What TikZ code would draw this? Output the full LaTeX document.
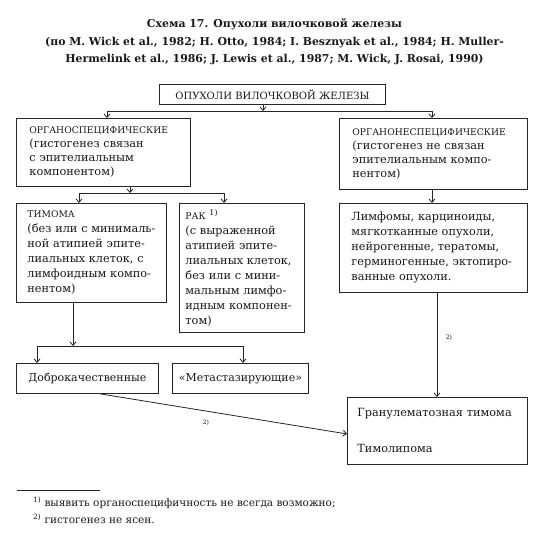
\documentclass[tikz,border=0pt]{standalone}
\usepackage{fontspec}
\setmainfont{DejaVu Serif}
\usetikzlibrary{arrows.meta}
\begin{document}
\begin{tikzpicture}[x=1pt,y=-1pt,
  box/.style={draw=black!85, line width=0.9pt, anchor=north west, inner ysep=0pt, align=left,
    text=black!90, font=\fontsize{11.3}{15}\selectfont},
  conn/.style={draw=black!85, line width=0.8pt},
  arr/.style={conn, -{Straight Barb[length=3.5pt,width=6pt]}},
  lab/.style={font=\fontsize{6}{7}\selectfont, inner sep=0pt, text=black!90},
  fn/.style={anchor=west, inner sep=0pt, font=\fontsize{10.5}{13}\selectfont, text=black!90},
]
\useasboundingbox (0,0) rectangle (549,544);
\fill[white] (0,0) rectangle (549,544);

% title
\node[align=center, font=\bfseries\fontsize{10.9}{17.5}\selectfont, text=black!90] (title) at (274.5,42)
  {Схема 17. Опухоли вилочковой железы\\
   (по M. Wick et al., 1982; H. Otto, 1984; I. Besznyak et al., 1984; H. Muller-\\
   Hermelink et al., 1986; J. Lewis et al., 1987; M. Wick, J. Rosai, 1990)};

% boxes
\node[box, minimum width=226pt, minimum height=20pt, text width=226pt, inner xsep=0pt, align=center,
  font=\fontsize{10}{11}\selectfont] (top) at (159,84) {ОПУХОЛИ ВИЛОЧКОВОЙ ЖЕЛЕЗЫ};

\node[box, minimum width=174pt, minimum height=68pt, text width=148pt, inner xsep=13pt,
  font=\fontsize{11.3}{14}\selectfont] (orgS) at (16,118)
  {\mbox{\fontsize{9.2}{14}\selectfont ОРГАНОСПЕЦИФИЧЕСКИЕ}\\\mbox{(гистогенез связан}\\\mbox{с эпителиальным}\\\mbox{компонентом)}};

\node[box, minimum width=188pt, minimum height=71pt, text width=162pt, inner xsep=13pt,
  font=\fontsize{11.3}{14}\selectfont] (orgN) at (339,118)
  {\mbox{\fontsize{9.2}{14}\selectfont ОРГАНОНЕСПЕЦИФИЧЕСКИЕ}\\\mbox{(гистогенез не связан}\\\mbox{эпителиальным компо-}\\\mbox{нентом)}};

\node[box, minimum width=150pt, minimum height=99pt, text width=128pt, inner xsep=11pt] (tim) at (16,203)
  {\mbox{\fontsize{9.2}{15}\selectfont ТИМОМА}\\\mbox{(без или с минималь-}\\\mbox{ной атипией эпите-}\\\mbox{лиальных клеток, с}\\\mbox{лимфоидным компо-}\\\mbox{нентом)}};

\node[box, minimum width=125pt, minimum height=129pt, text width=113pt, inner xsep=6pt] (rak) at (179,203)
  {\mbox{{\fontsize{9.2}{15}\selectfont РАК} \textsuperscript{1)}}\\\mbox{(с выраженной}\\\mbox{атипией эпите-}\\\mbox{лиальных клеток,}\\\mbox{без или с мини-}\\\mbox{мальным лимфо-}\\\mbox{идным компонен-}\\\mbox{том)}};

\node[box, minimum width=188pt, minimum height=89pt, text width=164pt, inner xsep=12pt] (lim) at (339,203)
  {\mbox{Лимфомы, карциноиды,}\\\mbox{мягкотканные опухоли,}\\\mbox{нейрогенные, тератомы,}\\\mbox{герминогенные, эктопиро-}\\\mbox{ванные опухоли.}};

\node[box, minimum width=142pt, minimum height=30pt, text width=142pt, inner xsep=0pt, align=center,
  font=\fontsize{11}{15}\selectfont] (dob) at (16,363)
  {Доброкачественные};

\node[box, minimum width=136pt, minimum height=30pt, text width=136pt, inner xsep=0pt, align=center,
  font=\fontsize{11}{15}\selectfont] (met) at (172,363)
  {«Метастазирующие»};

\node[box, minimum width=180pt, minimum height=67pt, text width=160pt, inner xsep=10pt] (gran) at (347,397)
  {\mbox{Гранулематозная тимома}\\[21pt]\mbox{Тимолипома}};

% connectors
\coordinate (hT) at (263,111);
\coordinate (hL) at (107,111);
\coordinate (hR) at (432,111);
\draw[arr] (hT |- top.south) -- (hT);
\draw[conn] (hL) -- (hR);
\draw[arr] (hL) -- (hL |- orgS.north);
\draw[arr] (hR) -- (hR |- orgN.north);

\coordinate (m2) at (130,193);
\coordinate (m2L) at (79,193);
\coordinate (m2R) at (224,193);
\draw[arr] (m2 |- orgS.south) -- (m2);
\draw[conn] (m2L) -- (m2R);
\draw[arr] (m2L) -- (m2L |- tim.north);
\draw[arr] (m2R) -- (m2R |- rak.north);

\draw[arr] (hR |- orgN.south) -- (hR |- lim.north);

\coordinate (m3) at (73,346);
\coordinate (m3L) at (37,346);
\coordinate (m3R) at (243,346);
\draw[arr] (m3 |- tim.south) -- (m3);
\draw[conn] (m3L) -- (m3R);
\draw[arr] (m3L) -- (m3L |- dob.north);
\draw[arr] (m3R) -- (m3R |- met.north);

\coordinate (vL) at (437,300);
\draw[arr] (vL |- lim.south) -- (vL |- gran.north);
\draw[arr] ([xshift=13pt]dob.south) -- ([yshift=-3pt]gran.west);

\node[lab] (l1) at (206,423) {2)};
\node[lab] (l2) at (449,338) {2)};

% footnotes
\draw[line width=0.8pt, black!85] (17,490) -- (100,490);
\node[fn] (fn1) at (33,503) {\textsuperscript{1)} выявить органоспецифичность не всегда возможно;};
\node[fn] (fn2) at (33,519) {\textsuperscript{2)} гистогенез не ясен.};
\end{tikzpicture}
\end{document}
